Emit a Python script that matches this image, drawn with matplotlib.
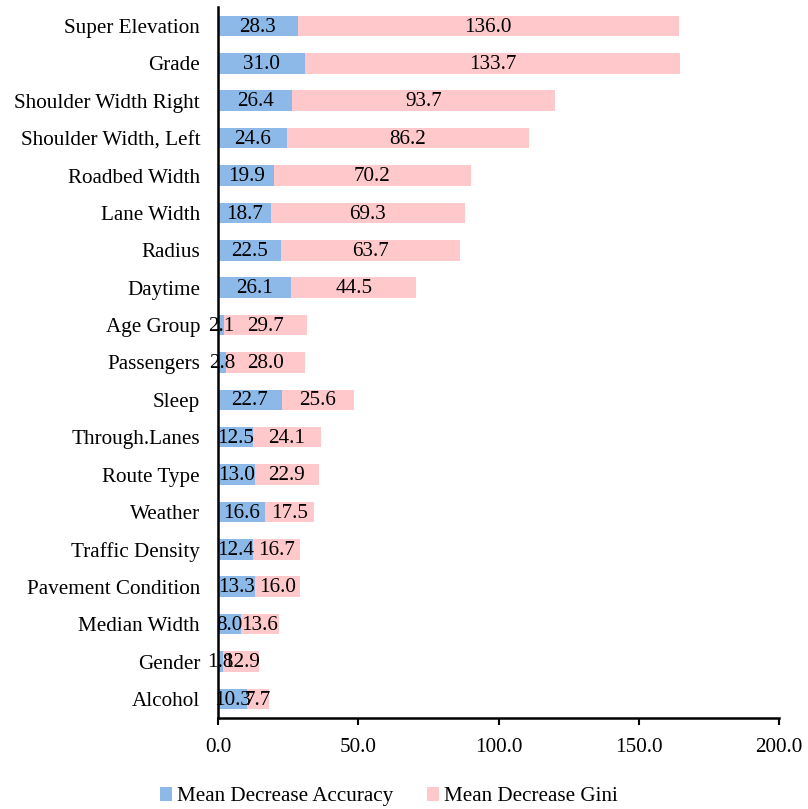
import matplotlib
matplotlib.use("Agg")
import matplotlib.pyplot as plt
import numpy as np

categories = ["Super Elevation", "Grade", "Shoulder Width Right", "Shoulder Width, Left",
              "Roadbed Width", "Lane Width", "Radius", "Daytime", "Age Group", "Passengers",
              "Sleep", "Through.Lanes", "Route Type", "Weather", "Traffic Density",
              "Pavement Condition", "Median Width", "Gender", "Alcohol"]
accuracy = [28.3, 31.0, 26.4, 24.6, 19.9, 18.7, 22.5, 26.1, 2.1, 2.8,
            22.7, 12.5, 13.0, 16.6, 12.4, 13.3, 8.0, 1.8, 10.3]
gini = [136.0, 133.7, 93.7, 86.2, 70.2, 69.3, 63.7, 44.5, 29.7, 28.0,
        25.6, 24.1, 22.9, 17.5, 16.7, 16.0, 13.6, 12.9, 7.7]
xticks = [0, 50, 100, 150, 200]

plt.rcParams['font.family'] = ['Liberation Serif', 'DejaVu Serif']

fig = plt.figure(figsize=(8.08, 8.09), dpi=100)
ax = fig.add_axes([0.27, 0.113, 0.694, 0.878])

blue = '#8DB9E8'
pink = '#FFC9CC'
y = np.arange(len(categories))
h = 0.55
acc = np.array(accuracy)
gn = np.array(gini)
b1 = ax.barh(y, acc, height=h, color=blue, label='Mean Decrease Accuracy')
b2 = ax.barh(y, gn, left=acc, height=h, color=pink, label='Mean Decrease Gini')

fs = 15.2
for i in range(len(categories)):
    ax.text(acc[i] / 2, y[i] + 0.03, f"{acc[i]:.1f}", ha='center', va='center', fontsize=fs, color='black')
    ax.text(acc[i] + gn[i] / 2, y[i] + 0.03, f"{gn[i]:.1f}", ha='center', va='center', fontsize=fs, color='black')

ax.set_yticks(y)
ax.set_yticklabels(categories, fontsize=fs)
ax.set_ylim(len(categories) - 0.5, -0.5)
ax.set_xlim(0, 200)
ax.set_xticks(xticks)
ax.set_xticklabels([f"{v:.1f}" for v in xticks], fontsize=fs)

for s in ['top', 'right']:
    ax.spines[s].set_visible(False)
ax.spines['left'].set_linewidth(1.8)
ax.spines['bottom'].set_linewidth(1.8)
ax.tick_params(axis='y', length=0, pad=13)
ax.tick_params(axis='x', length=5, width=1.5, direction='out', pad=10)

fig.legend(handles=[b1, b2], loc='center', bbox_to_anchor=(0.481, 0.015), ncol=2,
           frameon=False, fontsize=fs, handlelength=0.6, handleheight=0.6,
           handletextpad=0.2, columnspacing=1.6)

fig.savefig("out.png", dpi=100)
